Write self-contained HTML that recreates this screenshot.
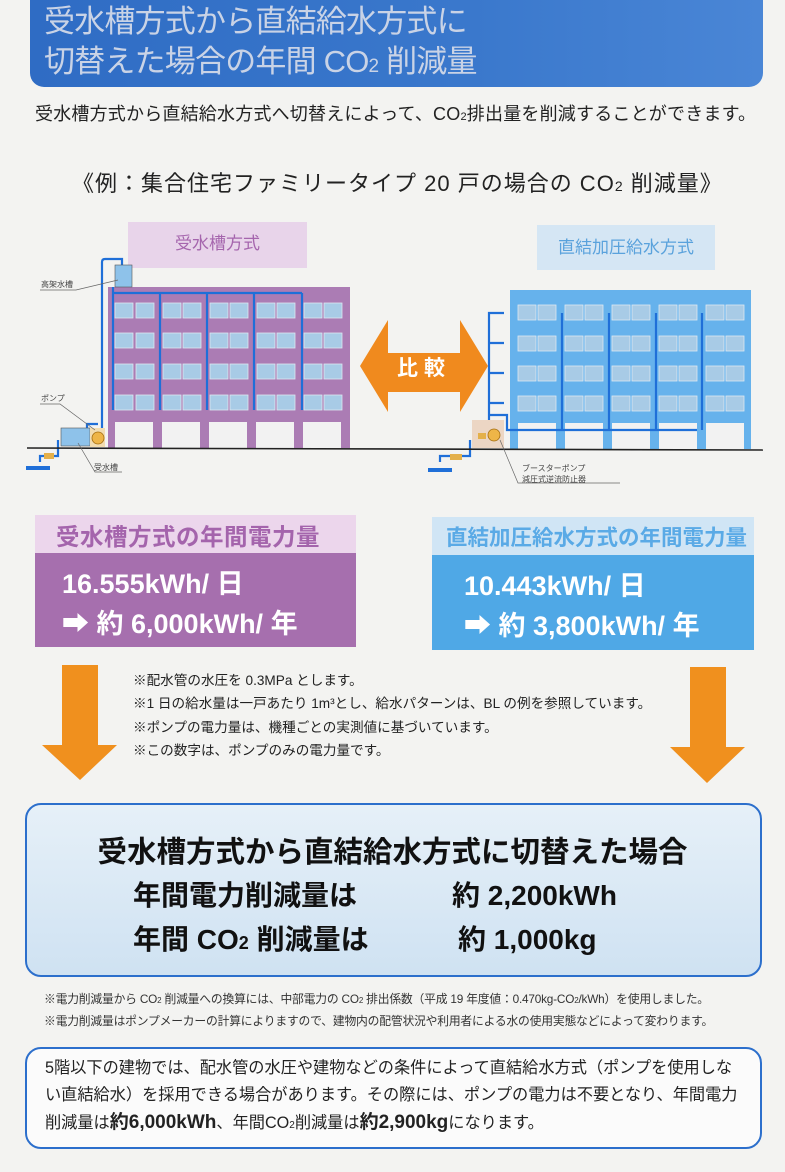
<!DOCTYPE html>
<html><head><meta charset="utf-8"><style>
body{margin:0;width:785px;height:1172px;background:#f3f3f1;position:relative;overflow:hidden;font-family:"Liberation Sans","Noto Sans CJK JP",sans-serif;color:#222}
.a{position:absolute;white-space:nowrap}
.hdr{left:30px;top:-10px;width:733px;height:97px;border-radius:0 0 14px 14px;background:linear-gradient(90deg,#2f6cc4,#3a78cc 60%,#4a86d6);}
.t1{color:#c9d3e6;font-size:31px;line-height:40px;left:44px;letter-spacing:-0.8px}
.box{border:2.5px solid #2c6fcc;border-radius:16px}
</style></head><body>
<div class="a hdr"></div>
<div class="a t1" style="top:2px">受水槽方式から直結給水方式に</div>
<div class="a t1" style="top:42px">切替えた場合の年間 CO<span style="font-size:19px">2</span> 削減量</div>
<div class="a" style="left:35px;top:100px;font-size:18px;letter-spacing:0.2px">受水槽方式から直結給水方式へ切替えによって、CO<span style="font-size:11px">2</span>排出量を削減することができます。</div>
<div class="a" style="left:72px;top:166px;font-size:22px;letter-spacing:1px">《例：集合住宅ファミリータイプ 20 戸の場合の CO<span style="font-size:14px">2</span> 削減量》</div>

<div class="a" style="left:128px;top:222px;width:179px;height:46px;background:#e8d4ea;color:#a565ad;font-size:17px;text-align:center;line-height:44px">受水槽方式</div>
<div class="a" style="left:537px;top:225px;width:178px;height:45px;background:#d5e6f4;color:#5aa2dc;font-size:17px;text-align:center;line-height:45px">直結加圧給水方式</div>

<svg class="a" style="left:0;top:250px" width="785" height="250" viewBox="0 250 785 250">
<rect x="108" y="287" width="242" height="161" fill="#ab7cb4"/>
<rect x="510" y="290" width="241" height="159" fill="#66b2ec"/>
<g fill="#a8cbe6" stroke="#dde8f2" stroke-width="0.8">
<rect x="115" y="303" width="18" height="15"/><rect x="136" y="303" width="18" height="15"/><rect x="163" y="303" width="18" height="15"/><rect x="183" y="303" width="18" height="15"/><rect x="210" y="303" width="18" height="15"/><rect x="230" y="303" width="18" height="15"/><rect x="257" y="303" width="18" height="15"/><rect x="277" y="303" width="18" height="15"/><rect x="304" y="303" width="18" height="15"/><rect x="324" y="303" width="18" height="15"/>
<rect x="115" y="333" width="18" height="15"/><rect x="136" y="333" width="18" height="15"/><rect x="163" y="333" width="18" height="15"/><rect x="183" y="333" width="18" height="15"/><rect x="210" y="333" width="18" height="15"/><rect x="230" y="333" width="18" height="15"/><rect x="257" y="333" width="18" height="15"/><rect x="277" y="333" width="18" height="15"/><rect x="304" y="333" width="18" height="15"/><rect x="324" y="333" width="18" height="15"/>
<rect x="115" y="364" width="18" height="15"/><rect x="136" y="364" width="18" height="15"/><rect x="163" y="364" width="18" height="15"/><rect x="183" y="364" width="18" height="15"/><rect x="210" y="364" width="18" height="15"/><rect x="230" y="364" width="18" height="15"/><rect x="257" y="364" width="18" height="15"/><rect x="277" y="364" width="18" height="15"/><rect x="304" y="364" width="18" height="15"/><rect x="324" y="364" width="18" height="15"/>
<rect x="115" y="395" width="18" height="15"/><rect x="136" y="395" width="18" height="15"/><rect x="163" y="395" width="18" height="15"/><rect x="183" y="395" width="18" height="15"/><rect x="210" y="395" width="18" height="15"/><rect x="230" y="395" width="18" height="15"/><rect x="257" y="395" width="18" height="15"/><rect x="277" y="395" width="18" height="15"/><rect x="304" y="395" width="18" height="15"/><rect x="324" y="395" width="18" height="15"/>
<rect x="518" y="305" width="18" height="15"/><rect x="538" y="305" width="18" height="15"/><rect x="565" y="305" width="18" height="15"/><rect x="585" y="305" width="18" height="15"/><rect x="612" y="305" width="18" height="15"/><rect x="632" y="305" width="18" height="15"/><rect x="659" y="305" width="18" height="15"/><rect x="679" y="305" width="18" height="15"/><rect x="706" y="305" width="18" height="15"/><rect x="726" y="305" width="18" height="15"/>
<rect x="518" y="336" width="18" height="15"/><rect x="538" y="336" width="18" height="15"/><rect x="565" y="336" width="18" height="15"/><rect x="585" y="336" width="18" height="15"/><rect x="612" y="336" width="18" height="15"/><rect x="632" y="336" width="18" height="15"/><rect x="659" y="336" width="18" height="15"/><rect x="679" y="336" width="18" height="15"/><rect x="706" y="336" width="18" height="15"/><rect x="726" y="336" width="18" height="15"/>
<rect x="518" y="366" width="18" height="15"/><rect x="538" y="366" width="18" height="15"/><rect x="565" y="366" width="18" height="15"/><rect x="585" y="366" width="18" height="15"/><rect x="612" y="366" width="18" height="15"/><rect x="632" y="366" width="18" height="15"/><rect x="659" y="366" width="18" height="15"/><rect x="679" y="366" width="18" height="15"/><rect x="706" y="366" width="18" height="15"/><rect x="726" y="366" width="18" height="15"/>
<rect x="518" y="396" width="18" height="15"/><rect x="538" y="396" width="18" height="15"/><rect x="565" y="396" width="18" height="15"/><rect x="585" y="396" width="18" height="15"/><rect x="612" y="396" width="18" height="15"/><rect x="632" y="396" width="18" height="15"/><rect x="659" y="396" width="18" height="15"/><rect x="679" y="396" width="18" height="15"/><rect x="706" y="396" width="18" height="15"/><rect x="726" y="396" width="18" height="15"/>
</g>
<g fill="#f2f2f2">
<rect x="115" y="422" width="38" height="26"/><rect x="162" y="422" width="38" height="26"/><rect x="209" y="422" width="38" height="26"/><rect x="256" y="422" width="38" height="26"/><rect x="303" y="422" width="38" height="26"/>
<rect x="518" y="423" width="38" height="26"/><rect x="565" y="423" width="38" height="26"/><rect x="612" y="423" width="38" height="26"/><rect x="659" y="423" width="38" height="26"/><rect x="706" y="423" width="38" height="26"/>
</g>
<g stroke="#1f6fd8" stroke-width="2.2" fill="none">
<path d="M102 430 V262 Q102 259 105 259 H122 V265"/>
<path d="M113 287 V410 M113 293 H302 M160 293 V410 M207 293 V410 M254 293 V410 M302 293 V410"/>
<path d="M87 440 V424 H98"/>
<path d="M40 462 V456 H58 V440"/>
<path d="M489 430 V313 H504 M489 343 H504 M489 373 H504 M489 403 H504 M489 415 H507 V430 H697 M562 430 V313 M609 430 V313 M656 430 V313 M702 430 V313"/>
<path d="M440 462 V456 H470 V440"/>
</g>
<rect x="115" y="265" width="17" height="22" fill="#8ec2ea" stroke="#555" stroke-width="0.6"/>
<rect x="61" y="428" width="29" height="18" fill="#8ec2ea" stroke="#555" stroke-width="0.6"/>
<rect x="90" y="428" width="15" height="19" fill="#f2dcb0"/>
<circle cx="98" cy="438" r="6" fill="#eeb548" stroke="#a36d10" stroke-width="0.8"/>
<rect x="472" y="420" width="32" height="28" fill="#ecd6c4"/>
<circle cx="494" cy="435" r="6" fill="#eeb548" stroke="#a36d10" stroke-width="0.8"/>
<rect x="478" y="433" width="8" height="6" fill="#e4b04a"/>
<rect x="26" y="466" width="24" height="4" fill="#1f6fd8"/>
<rect x="428" y="468" width="24" height="4" fill="#1f6fd8"/>
<rect x="44" y="453" width="10" height="6" fill="#e4b04a"/>
<rect x="450" y="454" width="12" height="6" fill="#e4b04a"/>
<line x1="27" y1="448" x2="763" y2="450" stroke="#222" stroke-width="1.6"/>
<g stroke="#666" stroke-width="0.7" fill="none">
<path d="M40 290 H76 L118 280"/><path d="M40 404 H60 L95 430"/><path d="M78 443 L95 472 H122"/><path d="M500 440 L518 483 H620"/>
</g>
<g font-size="8" fill="#444"><text x="41" y="287">高架水槽</text><text x="41" y="401">ポンプ</text><text x="94" y="470">受水槽</text><text x="522" y="471">ブースターポンプ</text><text x="522" y="482">減圧式逆流防止器</text></g>
<polygon points="360,366 388,320 388,353 460,353 460,320 488,366 460,412 460,392 388,392 388,412" fill="#f08a1e"/>
<text x="424" y="375" font-size="21" font-weight="bold" fill="#fff" text-anchor="middle" letter-spacing="6">比較</text>
</svg>

<div class="a" style="left:35px;top:515px;width:321px;height:38px;background:#ecd6ec"></div>
<div class="a" style="left:56px;top:518px;font-size:23.5px;font-weight:bold;color:#a464ac;letter-spacing:0.5px">受水槽方式の年間電力量</div>
<div class="a" style="left:35px;top:553px;width:321px;height:94px;background:#a66fae"></div>
<div class="a" style="left:62px;top:564px;font-size:27px;font-weight:bold;color:#fff;line-height:40px">16.555kWh/ 日<br>➡ 約 6,000kWh/ 年</div>

<div class="a" style="left:432px;top:517px;width:322px;height:38px;background:#d0e5f5"></div>
<div class="a" style="left:446px;top:521px;font-size:21.5px;font-weight:bold;color:#5aaae6">直結加圧給水方式の年間電力量</div>
<div class="a" style="left:432px;top:555px;width:322px;height:95px;background:#4fa8e6"></div>
<div class="a" style="left:464px;top:566px;font-size:27px;font-weight:bold;color:#fff;line-height:40px">10.443kWh/ 日<br>➡ 約 3,800kWh/ 年</div>

<svg class="a" style="left:0;top:660px" width="785" height="130">
<polygon points="62,5 98,5 98,85 117,85 80,120 42,85 62,85" fill="#f0901e"/>
<polygon points="690,7 726,7 726,87 745,87 707,123 670,87 690,87" fill="#f0901e"/>
</svg>
<div class="a" style="left:133px;top:669px;font-size:13.6px;line-height:23.3px;color:#222">※配水管の水圧を 0.3MPa とします。<br>※1 日の給水量は一戸あたり 1m³とし、給水パターンは、BL の例を参照しています。<br>※ポンプの電力量は、機種ごとの実測値に基づいています。<br>※この数字は、ポンプのみの電力量です。</div>

<div class="a box" style="left:25px;top:803px;width:733px;height:170px;background:linear-gradient(180deg,#e6f0f8,#cfe2f2)"></div>
<div class="a" style="left:0;width:785px;text-align:center;top:829px;font-size:29.5px;font-weight:bold;color:#111">受水槽方式から直結給水方式に切替えた場合</div>
<div class="a" style="left:133px;top:874px;font-size:28px;font-weight:bold;color:#111">年間電力削減量は</div>
<div class="a" style="left:452px;top:874px;font-size:28px;font-weight:bold;color:#111">約 2,200kWh</div>
<div class="a" style="left:133px;top:918px;font-size:28px;font-weight:bold;color:#111">年間 CO<span style="font-size:18px">2</span> 削減量は</div>
<div class="a" style="left:458px;top:918px;font-size:28px;font-weight:bold;color:#111">約 1,000kg</div>

<div class="a" style="left:44px;top:989px;font-size:11.8px;line-height:20px;color:#333;letter-spacing:-0.2px">※電力削減量から CO<span style="font-size:8px">2</span> 削減量への換算には、中部電力の CO<span style="font-size:8px">2</span> 排出係数（平成 19 年度値：0.470kg-CO<span style="font-size:8px">2</span>/kWh）を使用しました。<br>※電力削減量はポンプメーカーの計算によりますので、建物内の配管状況や利用者による水の使用実態などによって変わります。</div>

<div class="a box" style="left:25px;top:1047px;width:733px;height:98px;background:#fbfbfb"></div>
<div class="a" style="left:45px;top:1055px;font-size:16.2px;line-height:27px;color:#222">5階以下の建物では、配水管の水圧や建物などの条件によって直結給水方式（ポンプを使用しな<br>い直結給水）を採用できる場合があります。その際には、ポンプの電力は不要となり、年間電力<br>削減量は<b style="font-size:19px">約6,000kWh</b>、年間CO<span style="font-size:10px">2</span>削減量は<b style="font-size:19px">約2,900kg</b>になります。</div>
</body></html>
